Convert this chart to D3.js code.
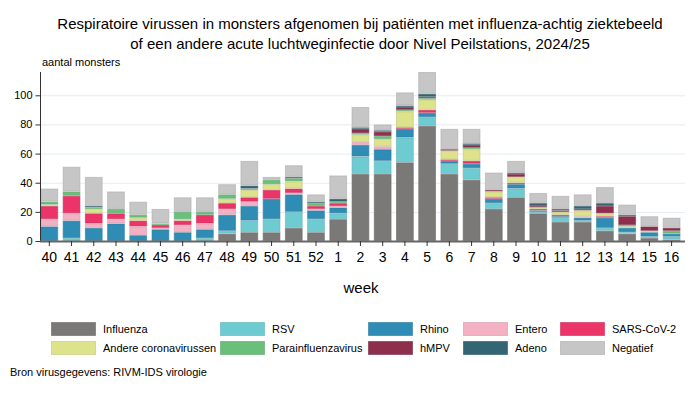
<!DOCTYPE html>
<html>
<head>
<meta charset="utf-8">
<style>
  body { margin: 0; background: #fff; }
  svg { font-family: Arial, "Liberation Sans", sans-serif; }
</style>
</head>
<body>
<svg width="696" height="395"></svg>
<script src="https://d3js.org/d3.v7.min.js"></script>
<script>

  var weeks = ["40","41","42","43","44","45","46","47","48","49","50","51","52",
               "1","2","3","4","5","6","7","8","9","10","11","12","13","14","15","16"];

  var influenza = [0,0,0,0,0,0,0,0,5,6,6,9,6,15,46,46,54,79,46,42,22,30,19,13,13,7,5,2,1];
  var rsv       = [0,2,0,0,0,0,0,2,2,8,9,11,9,4,12,9,17,6,7,8,4,6,1,3,1,2,1,1,2];
  var rhino     = [10,12,9,12,4,8,6,6,11,10,14,12,6,4,8,8,6,3,2,3,3,3,1,1,2,7,3,3,2];
  var entero    = [5,5,3,3,6,1,5,4,4,3,0,1,1,1,2,2,0,0,0,0,0,0,0,0,1,0,0,0,0];
  var sars      = [9,12,7,4,4,2,3,6,4,3,6,3,2,2,0,0,1,2,1,2,1,1,1,1,0,1,0,0,0];
  var andere    = [1,0,3,0,2,0,1,0,3,5,4,5,0,0,5,5,11,7,6,8,4,4,1,2,4,2,1,1,0];
  var para      = [2,3,1,3,2,1,5,2,3,1,3,2,2,1,1,2,1,1,0,1,0,0,0,0,0,0,1,0,2];
  var hmpv      = [0,0,0,0,0,0,0,0,0,0,0,0,0,0,3,3,2,1,1,2,1,2,1,1,1,5,6,3,2];
  var adeno     = [0,0,1,0,0,0,0,0,0,2,0,1,1,2,1,1,1,2,0,1,0,1,2,1,2,2,1,0,0];
  var negatief  = [9,17,20,12,9,10,10,10,7,17,2,8,5,16,14,4,9,15,14,10,12,8,7,9,8,11,7,7,7];

  var yTicks = [0, 20, 40, 60, 80, 100];

  var series = [
    {name: "Influenza", values: influenza, color: "#7b7977"},
    {name: "RSV", values: rsv, color: "#6fcbd2"},
    {name: "Rhino", values: rhino, color: "#2f8db5"},
    {name: "Entero", values: entero, color: "#f4b1c4"},
    {name: "SARS-CoV-2", values: sars, color: "#eb3468"},
    {name: "Andere coronavirussen", values: andere, color: "#dde38b"},
    {name: "Parainfluenzavirus", values: para, color: "#6abf7b"},
    {name: "hMPV", values: hmpv, color: "#8d2f4d"},
    {name: "Adeno", values: adeno, color: "#346574"},
    {name: "Negatief", values: negatief, color: "#c6c6c6"}
  ];

  var svg = d3.select("svg");

  // rows for the stack
  var table = weeks.map(function(w, i) {
    var row = {week: w};
    series.forEach(function(s) { row[s.name] = s.values[i]; });
    return row;
  });

  var stack = d3.stack().keys(series.map(function(s) { return s.name; }));
  var layers = stack(table);

  var x = d3.scaleBand().domain(weeks).range([38.2, 682.7]).paddingInner(0.2).paddingOuter(0.1);
  var y = d3.scaleLinear().domain([0, 116]).range([241, 72]);

  // title
  var title = svg.append("text")
      .attr("x", 360).attr("text-anchor", "middle")
      .attr("font-size", 15).attr("fill", "#000");
  title.append("tspan").attr("x", 360).attr("y", 29)
      .text("Respiratoire virussen in monsters afgenomen bij patiënten met influenza-achtig ziektebeeld");
  title.append("tspan").attr("x", 360).attr("y", 49)
      .text("of een andere acute luchtweginfectie door Nivel Peilstations, 2024/25");

  svg.append("text")
      .attr("x", 42).attr("y", 66)
      .attr("font-size", 11).attr("fill", "#000")
      .text("aantal monsters");

  // gridlines
  svg.append("g").selectAll("line")
    .data(yTicks.filter(function(d) { return d > 0; }))
    .enter().append("line")
      .attr("x1", 41).attr("x2", 685)
      .attr("y1", function(d) { return y(d) + 0.5; })
      .attr("y2", function(d) { return y(d) + 0.5; })
      .attr("stroke", "#e4ecf1").attr("stroke-width", 1);

  // bars
  svg.append("g").selectAll("g")
    .data(layers)
    .enter().append("g")
      .attr("fill", function(d, i) { return series[i].color; })
      .attr("stroke", function(d, i) { return d3.color(series[i].color).darker(0.4); })
    .selectAll("rect")
    .data(function(d) { return d; })
    .enter().filter(function(d) { return d[1] - d[0] > 0; }).append("rect")
      .attr("x", function(d) { return x(d.data.week) + 0.5; })
      .attr("width", x.bandwidth() - 1)
      .attr("y", function(d) { return y(d[1]) + 0.5; })
      .attr("height", function(d) { return Math.max(0, y(d[0]) - y(d[1]) - 1); })
      .attr("stroke-width", 1)
      .attr("stroke-opacity", 0.6);

  // y axis
  var yAxis = svg.append("g")
      .attr("transform", "translate(40.5,0)")
      .call(d3.axisLeft(y).tickValues(yTicks).tickSize(5).tickPadding(3));
  yAxis.select(".domain").attr("d", "M0," + 72 + "V" + 241).attr("stroke", "#333");
  yAxis.selectAll(".tick line").attr("stroke", "#333");
  yAxis.selectAll("text").attr("font-size", 11).attr("font-family", "Arial, 'Liberation Sans', sans-serif").attr("fill", "#000");

  // x axis
  var xAxis = svg.append("g")
      .attr("transform", "translate(0,241)")
      .call(d3.axisBottom(x).tickSize(5).tickPadding(6));
  xAxis.select(".domain").attr("d", "M40,0.5H685").attr("stroke", "#666").attr("stroke-width", 2);
  xAxis.selectAll(".tick line").attr("stroke", "#333");
  xAxis.selectAll("text").attr("font-size", 14).attr("font-family", "Arial, 'Liberation Sans', sans-serif").attr("fill", "#000");

  svg.append("text")
      .attr("x", 361).attr("y", 293).attr("text-anchor", "middle")
      .attr("font-size", 15).attr("fill", "#000")
      .text("week");

  // legend
  var legX = [51, 220, 368, 463, 560];
  var legY = [322, 341];
  var legend = svg.append("g").selectAll("g")
    .data(series)
    .enter().append("g")
      .attr("transform", function(d, i) {
        return "translate(" + legX[i % 5] + "," + legY[Math.floor(i / 5)] + ")";
      });
  legend.append("rect")
      .attr("x", 0.5).attr("y", 0.5)
      .attr("width", 44).attr("height", 13)
      .attr("fill", function(d) { return d.color; })
      .attr("stroke", function(d) { return d3.color(d.color).darker(0.4); })
      .attr("stroke-opacity", 0.6);
  legend.append("text")
      .attr("x", 52).attr("y", 11)
      .attr("font-size", 11).attr("fill", "#000")
      .text(function(d) { return d.name; });

  svg.append("text")
      .attr("x", 10).attr("y", 376)
      .attr("font-size", 11).attr("fill", "#000")
      .text("Bron virusgegevens: RIVM-IDS virologie");

</script>
</body>
</html>
